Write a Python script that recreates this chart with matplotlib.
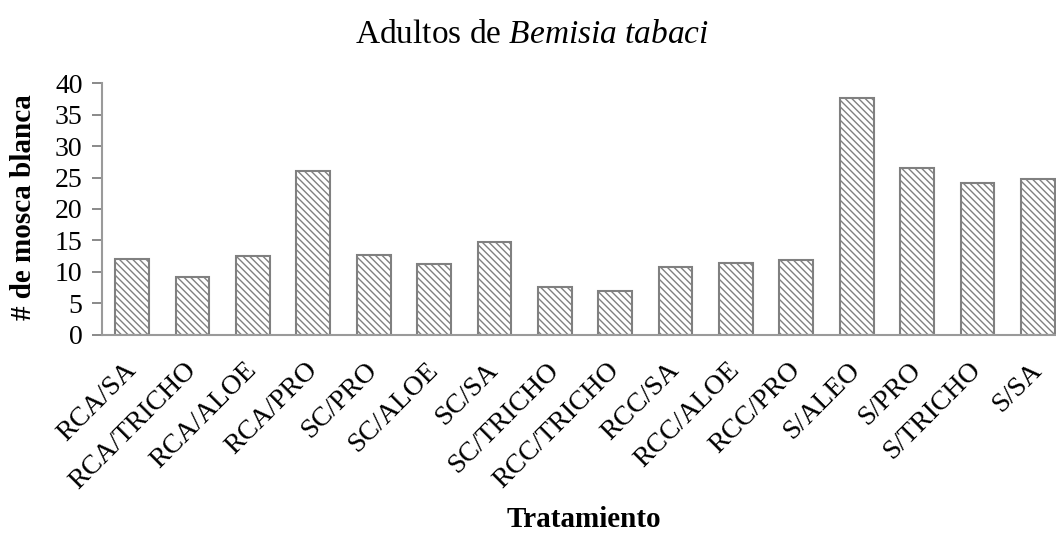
import matplotlib
matplotlib.use("Agg")
import matplotlib.pyplot as plt

plt.rcParams['font.family'] = ['Liberation Serif', 'DejaVu Serif']
plt.rcParams['mathtext.fontset'] = 'custom'
plt.rcParams['mathtext.rm'] = 'Liberation Serif'
plt.rcParams['mathtext.it'] = 'Liberation Serif:italic'
plt.rcParams['hatch.linewidth'] = 1.0
plt.rcParams['hatch.color'] = '#8c8c8c'

categories = ["RCA/SA", "RCA/TRICHO", "RCA/ALOE", "RCA/PRO", "SC/PRO", "SC/ALOE",
              "SC/SA", "SC/TRICHO", "RCC/TRICHO", "RCC/SA", "RCC/ALOE", "RCC/PRO",
              "S/ALEO", "S/PRO", "S/TRICHO", "S/SA"]
values = [12.1, 9.2, 12.5, 26.1, 12.6, 11.2, 14.7, 7.5, 7.0, 10.7, 11.4, 11.9,
          37.6, 26.5, 24.2, 24.7]
yticks = [0, 5, 10, 15, 20, 25, 30, 35, 40]

W, H = 1056, 535
fig = plt.figure(figsize=(W / 100, H / 100), dpi=100)
ax = fig.add_axes([102 / W, (H - 334.5) / H, 966 / W, (334.5 - 83.3) / H])

x = range(len(categories))
ax.bar(x, values, width=0.56, color='white', edgecolor='#808080',
       linewidth=1.5, hatch='\\\\\\\\\\')

ax.set_xlim(-0.5, len(categories) - 0.5)
ax.set_ylim(0, 40)
ax.set_yticks(yticks)
ax.set_yticklabels([str(t) for t in yticks], fontsize=20)
ax.set_xticks(list(x))
ax.set_xticklabels(categories, rotation=45, ha='right', va='center',
                   rotation_mode='anchor', fontsize=20)
ax.tick_params(axis='x', length=0, pad=23)
ax.tick_params(axis='y', length=7, width=1.3, color='#808080', pad=7)

for s in ['top', 'right']:
    ax.spines[s].set_visible(False)
for s in ['left', 'bottom']:
    ax.spines[s].set_color('#9a9a9a')
    ax.spines[s].set_linewidth(1.5)

fig.text(532 / W, 1 - 43 / H, r'Adultos de $\mathit{Bemisia\ tabaci}$',
         ha='center', va='baseline', fontsize=24)
fig.text(584 / W, 1 - 527 / H, 'Tratamiento', ha='center', va='baseline',
         fontsize=21, fontweight='bold')
fig.text(24 / W, 1 - 207 / H, '# de mosca blanca', ha='center', va='center',
         rotation=90, fontsize=21, fontweight='bold')

fig.savefig('out.png', dpi=100)
